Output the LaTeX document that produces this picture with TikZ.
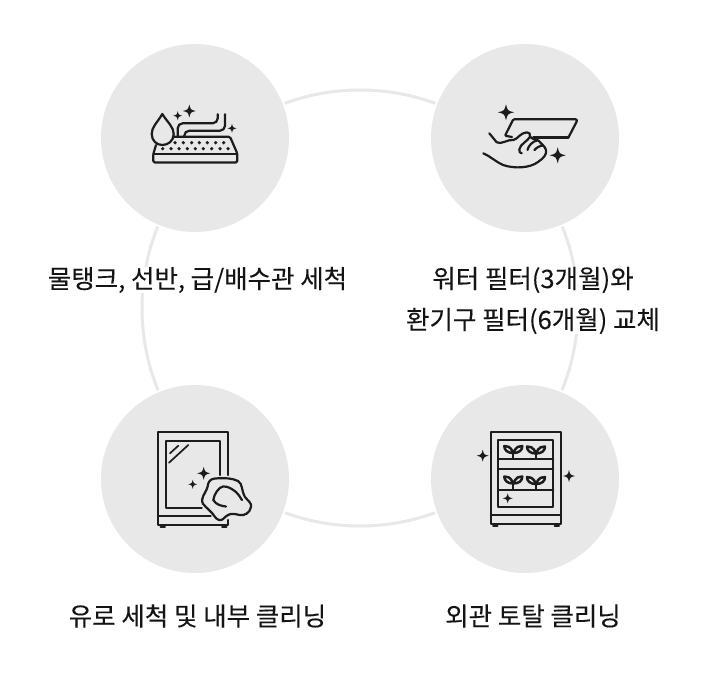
\documentclass[tikz,border=0pt]{standalone}
\usepackage{fontspec}
\setmainfont[FakeBold=0.12]{Noto Sans CJK KR}
\definecolor{discgray}{HTML}{E8E8E8}
\definecolor{ringgray}{HTML}{E8E8E8}
\definecolor{icon}{HTML}{1C1C1C}
\tikzset{
 x=1pt,y=-1pt,
 disc/.style={circle,fill=discgray,minimum size=188pt,inner sep=0pt},
 ring/.style={draw=ringgray,line width=3pt},
 caption/.style={font=\fontsize{25.5pt}{41pt}\selectfont,text=black!92,align=center,inner sep=0pt,fill=white},
 ico/.style={draw=icon,line width=2.2pt,line join=round,line cap=round,fill=none},
 thinico/.style={ico,line width=1.7pt},
}
\newcommand{\sparkle}[3]{\fill[icon] ({#1-#3},#2) .. controls ({#1-#3*.2},{#2-#3*.2}) .. (#1,{#2-#3}) .. controls ({#1+#3*.2},{#2-#3*.2}) .. ({#1+#3},#2) .. controls ({#1+#3*.2},{#2+#3*.2}) .. (#1,{#2+#3}) .. controls ({#1-#3*.2},{#2+#3*.2}) .. cycle;}
\newcommand{\plant}[2]{%
 \draw[ico] (#1,#2) -- (#1,{#2-5});
 \draw[ico,line width=2.5pt] (#1,{#2-5}) .. controls ({#1-3},{#2-12}) and ({#1-6},{#2-12}) .. ({#1-9},{#2-12}) .. controls ({#1-9},{#2-8}) and ({#1-6},{#2-5}) .. (#1,{#2-5});
 \draw[ico,line width=2.5pt] (#1,{#2-5}) .. controls ({#1+3},{#2-12}) and ({#1+6},{#2-12}) .. ({#1+9},{#2-12}) .. controls ({#1+9},{#2-8}) and ({#1+6},{#2-5}) .. (#1,{#2-5});
}
\begin{document}
\begin{tikzpicture}
\useasboundingbox (0,0) rectangle (720,688);
\fill[white] (0,0) rectangle (720,688);
\node[circle,ring,minimum size=436pt,inner sep=0pt] (bigring) at (360,308) {};
\foreach \n/\x/\y in {d1/195/138,d2/525/138,d3/195/479,d4/525/479}{
  \fill[white] (\x,\y) circle (96);
  \node[disc] (\n) at (\x,\y) {};
}
% captions
\node[caption] (t1) at (197.5,280) {물탱크, 선반, 급/배수관 세척};
\node[caption] (t2) at (533,300.5) {워터 필터(3개월)와\\환기구 필터(6개월) 교체};
\node[caption] (t3) at (197.5,616) {유로 세척 및 내부 클리닝};
\node[caption] (t4) at (533,616) {외관 토탈 클리닝};
% icon 1
\draw[ico] (162.3,114) .. controls (157,123) and (151.7,127) .. (151.7,134) .. controls (151.7,141) and (157,145) .. (162.3,145) .. controls (168,145) and (173.7,141) .. (173.7,134) .. controls (173.7,127) and (168,123) .. (162.3,114) -- cycle;
\draw[ico,rounded corners=1.5pt] (156,145) -- (153.3,154) -- (153.3,162.5) -- (237.3,162.5) -- (237.3,153.5) -- (230,136.7) -- (173,136.7);
\draw[ico] (153.3,153.8) -- (237.3,153.8);
\draw[ico,rounded corners=5pt] (177.7,136.7) -- (177.7,123.3) -- (217.7,123.3) -- (217.7,114.3);
\draw[ico,rounded corners=5pt] (184.3,136.7) -- (184.3,130.7) -- (225,130.7) -- (225,114.3);
\foreach \x in {175,183.3,191.7,199.3,207.3,215.7,223.7}{\fill[icon] (\x,142.7) circle (1.8);}
\foreach \x in {162.7,171,179,187.3,195.3,203.3,211.7,220,228}{\fill[icon] (\x,148.7) circle (1.8);}
\sparkle{189.3}{111}{6.5}
\sparkle{177.7}{115.7}{4.5}
\sparkle{232}{128.3}{4.5}
% icon 2
\sparkle{506}{112.3}{8}
\sparkle{557.7}{155.3}{8}
\draw[ico,rounded corners=1pt] (512,137) -- (505,135.7) -- (513.3,119.3) -- (576.7,119.3) -- (577,121) -- (568.5,137.3) -- (533.3,137.3);
\draw[ico,line width=2.8pt] (533.3,137.3) -- (568.5,137.3);
\draw[ico] (489.3,133.3) -- (496.7,142.3) .. controls (501,145) and (508,139) .. (513.3,140) .. controls (518,139) and (520,133) .. (526.7,132.3) .. controls (529,132) and (531,134) .. (530,136.7) .. controls (528,141) and (520,144) .. (519.3,149.5) .. controls (519,152) and (520,153) .. (521.7,153.3);
\draw[ico] (483.3,153.3) .. controls (490,156) and (496,162) .. (503,165) .. controls (515,169) and (530,168) .. (538,162) .. controls (544,158) and (547,154) .. (546,150) .. controls (545,146) and (541,144) .. (539,141) .. controls (537,139) and (533,140) .. (530,136.7);
\draw[ico] (537,140.5) .. controls (533,141) and (528,146) .. (527.5,150);
\draw[ico] (543,145.5) .. controls (540,145.5) and (536,148) .. (534.5,150);
% icon 3
\draw[ico] (228.3,475) -- (228.3,432.3) -- (158.3,432.3) -- (158.3,525) -- (228.3,525) -- (228.3,520);
\draw[ico] (158.3,515.7) -- (210.7,515.7);
\draw[ico] (220.3,475) -- (220.3,441) -- (165.7,441) -- (165.7,507.7) -- (201.7,507.7);
\draw[thinico] (178.3,445.7) -- (170,453.3);
\draw[thinico] (188.3,445) -- (169,462.7);
\draw[ico,line width=2pt] (160.5,526.5) -- (165,526.5) (222,526.5) -- (226.5,526.5);
\sparkle{203.7}{473.3}{6.5}
\sparkle{192.7}{484.3}{4.5}
\draw[ico] (208.3,483.3) .. controls (210,479) and (213,478.5) .. (218,478.3) .. controls (225,478) and (232,478) .. (238,481) .. controls (243,484) and (241,490) .. (245,497) .. controls (248,501) and (252,503) .. (251,507) .. controls (250,513) and (244,516) .. (240,515) .. controls (234,514) and (232,513) .. (228,515) .. controls (224,517) and (223,521) .. (219,520) .. controls (215,519) and (214,514) .. (209,510) .. controls (204,505) and (201,503) .. (202.3,499) .. controls (203,494) and (207,492) .. (208.3,483.3) -- cycle;
\draw[ico] (213.3,500) .. controls (214,494) and (219,487) .. (223,486.5) .. controls (228,486) and (232,489) .. (236,492) .. controls (240,496) and (241,499) .. (242,500);
\draw[ico] (213.3,500) .. controls (216,505) and (222,506) .. (226,506.5);
% icon 4
\draw[ico] (491,431.7) rectangle (560.7,524.3);
\draw[ico] (491,515) -- (560.7,515);
\draw[ico] (498.3,440) rectangle (553.3,506.7);
\draw[ico] (498.3,459.3) -- (553.3,459.3);
\draw[ico] (498.3,469.3) -- (553.3,469.3);
\draw[ico] (498.3,490) -- (553.3,490);
\draw[ico,line width=2pt] (493,525.5) -- (497.5,525.5) (554.5,525.5) -- (559,525.5);
\plant{513.3}{458}
\plant{536}{458.5}
\plant{513.3}{488.5}
\plant{536}{489}
\sparkle{482.7}{455.7}{6}
\sparkle{569}{476}{6}
\sparkle{507.7}{498.3}{5}
\end{tikzpicture}
\end{document}
